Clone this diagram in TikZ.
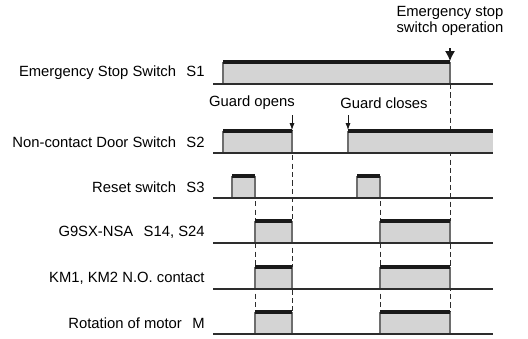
\documentclass[tikz,border=0pt]{standalone}
\usepackage{fontspec}
\usepackage{tikz}
\usetikzlibrary{arrows.meta}
\newfontfamily\tdsans{Liberation Sans}
\definecolor{tdedge}{RGB}{45,45,45}
\definecolor{tdside}{RGB}{110,110,110}
\definecolor{tdtop}{RGB}{25,25,25}
\definecolor{tdfill}{RGB}{212,212,212}
\newcommand{\tdgap}{\hspace{0.7em}}
% one high level: x start, x end, base line
\newcommand{\tdpulse}[3]{%
  \fill[tdfill] (#1,#3) rectangle (#2,#3-22);
  \draw[side] (#1,#3) -- (#1,#3-22) (#2,#3) -- (#2,#3-22);
  \draw[hitop] (#1,#3-22) -- (#2,#3-22);
}
\tikzset{
  sig/.style={draw=tdedge, line width=0.65pt},
  side/.style={draw=tdside, line width=0.6pt},
  hitop/.style={draw=tdtop, line width=1.9pt},
  sync/.style={draw=tdedge, line width=0.5pt, dash pattern=on 2.6pt off 1.6pt},
  lbl/.style={anchor=east, inner sep=0pt, font=\tdsans\fontsize{7.4}{8.8}\selectfont},
  note/.style={inner sep=0pt, align=center, font=\tdsans\fontsize{7.4}{7.6}\selectfont},
  arr/.style={-{Latex[length=5pt,width=5pt]}, draw=tdtop, line width=0.6pt},
  sarr/.style={-{Latex[length=3.4pt,width=2.5pt]}, draw=tdtop, line width=0.45pt},
  every picture/.append style={line join=miter}
}
\begin{document}
\begin{tikzpicture}[x=0.5pt,y=-0.5pt]
  \useasboundingbox (0,0) rectangle (528,338);
  % guide lines
  \draw[sync] (450,84) -- (450,311);
  \draw[sync] (292,130) -- (292,311);
  \draw[sync] (255,176) -- (255,311);
  \draw[sync] (380,176) -- (380,311);
  % levels
  \tdpulse{223}{450}{84}
  \tdpulse{223}{292}{153}
  \fill[tdfill] (348,153) rectangle (493,131);
  \draw[side] (348,153) -- (348,131);
  \draw[hitop] (348,131) -- (493,131);
  \tdpulse{232}{255}{198}
  \tdpulse{357}{380}{198}
  \foreach \yb in {243,289,334} {
    \tdpulse{255}{292}{\yb}
    \tdpulse{380}{450}{\yb}
  }
  % rows
  \foreach \row/\yb/\txt in {s1/84/{Emergency Stop Switch\tdgap S1},
      s2/153/{Non-contact Door Switch\tdgap S2},
      s3/198/{Reset switch\tdgap S3},
      s14/243/{G9SX-NSA\tdgap S14, S24},
      km/289/{KM1, KM2 N.O. contact},
      mot/334/{Rotation of motor\tdgap M}} {
    \node[lbl] (\row) at (205,\yb-11) {\txt};
    \draw[sig] (213,\yb) -- (493,\yb);
  }
  % events
  \node[note] (estop) at (450,21) {Emergency stop\\switch operation};
  \coordinate (estopa) at (450,48);
  \coordinate (estopb) at (450,61);
  \draw[arr] (estopa) -- (estopb);
  \node[note] (gopen) at (252,103) {Guard opens};
  \node[note] (gclose) at (384,103) {Guard closes};
  \coordinate (gopena) at (292,115);
  \coordinate (gopenb) at (292,130);
  \coordinate (gclosea) at (348,115);
  \coordinate (gcloseb) at (348,130);
  \draw[sarr] (gopena) -- (gopenb);
  \draw[sarr] (gclosea) -- (gcloseb);
\end{tikzpicture}
\end{document}
